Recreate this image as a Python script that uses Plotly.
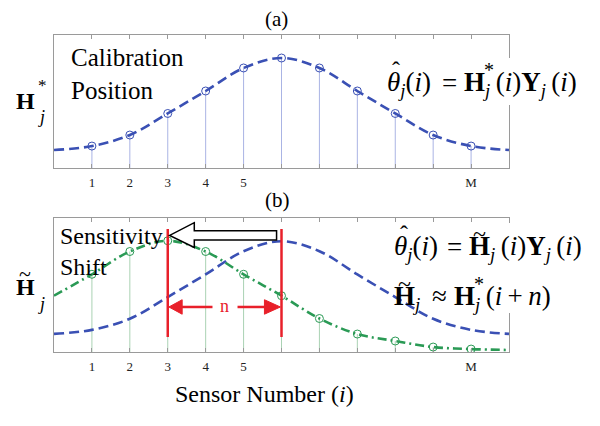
import plotly.graph_objects as go

# ---------------- data ----------------
X_CURVE = [0, 1, 2, 3, 4, 5, 6, 7, 8, 9, 10, 11, 12]
BLUE = [0.135, 0.165, 0.248, 0.41, 0.579, 0.752, 0.827, 0.752, 0.579, 0.41, 0.248, 0.165, 0.135]
GREEN = [0.42, 0.58, 0.75, 0.83, 0.75, 0.58, 0.42, 0.25, 0.134, 0.082, 0.037, 0.022, 0.015]
SENSORS = [1, 2, 3, 4, 5, 6, 7, 8, 9, 10, 11]
TICK_LABELS = ["1", "2", "3", "4", "5", "", "", "", "", "", "M"]
SHIFT_FROM, SHIFT_TO = 6, 3

# page body has an 8px default margin; the figure is sized to fit the window
OFF = 8
W, H = 600 - OFF, 426 - OFF
FONT = "Liberation Serif"
BLUE_C = "#3a50b4"
GREEN_C = "#2a9a55"
BLUE_STEM = "#aab4e4"
GREEN_STEM = "#aad2b4"
RED = "#e8202a"
FRAME = "#9a9a9a"


def PX(p):
    return (p - OFF) / W


def PY(p):
    return 1 - (p - OFF) / H


def stems(xs, vs):
    sx, sy = [], []
    for x, v in zip(xs, vs):
        sx += [x, x, None]
        sy += [0, v, None]
    return sx, sy


blue_marks = BLUE[1:12]
green_marks = GREEN[1:12]

fig = go.Figure()

# panel (a)
bx, by = stems(SENSORS, blue_marks)
fig.add_trace(go.Scatter(x=bx, y=by, mode="lines", line=dict(color=BLUE_STEM, width=1),
                         xaxis="x", yaxis="y", hoverinfo="skip"))
fig.add_trace(go.Scatter(x=X_CURVE, y=BLUE, mode="lines",
                         line=dict(color=BLUE_C, width=2.6, dash="10px,5px", shape="spline"),
                         xaxis="x", yaxis="y"))
fig.add_trace(go.Scatter(x=SENSORS, y=blue_marks, mode="markers",
                         marker=dict(symbol="circle-open", size=8, color=BLUE_C, line=dict(width=1)),
                         xaxis="x", yaxis="y"))

# panel (b)
gx, gy = stems(SENSORS, green_marks)
fig.add_trace(go.Scatter(x=gx, y=gy, mode="lines", line=dict(color=GREEN_STEM, width=1),
                         xaxis="x2", yaxis="y2", hoverinfo="skip"))
fig.add_trace(go.Scatter(x=X_CURVE, y=BLUE, mode="lines",
                         line=dict(color=BLUE_C, width=2.6, dash="10px,5px", shape="spline"),
                         xaxis="x2", yaxis="y2"))
fig.add_trace(go.Scatter(x=X_CURVE, y=GREEN, mode="lines",
                         line=dict(color=GREEN_C, width=2.6, dash="9px,4px,2px,4px", shape="spline"),
                         xaxis="x2", yaxis="y2"))
fig.add_trace(go.Scatter(x=SENSORS, y=green_marks, mode="markers",
                         marker=dict(symbol="circle-open", size=8, color=GREEN_C, line=dict(width=1)),
                         xaxis="x2", yaxis="y2"))

xcommon = dict(range=[0, 12], tickvals=SENSORS, ticktext=TICK_LABELS, ticks="inside", ticklen=4,
               tickcolor=FRAME, showline=True, linecolor=FRAME, linewidth=1, mirror="ticks",
               showgrid=False, zeroline=False, tickfont=dict(family=FONT, size=13, color="#222"),
               ticklabelstandoff=2, domain=[PX(54), PX(509)], fixedrange=True)
ycommon = dict(range=[0, 1], showline=True, linecolor=FRAME, linewidth=1, mirror=True,
               showticklabels=False, ticks="", showgrid=False, zeroline=False, fixedrange=True)

shapes = []
# red vertical markers
for xv in (SHIFT_TO, SHIFT_FROM):
    shapes.append(dict(type="line", xref="x2", yref="y2", x0=xv, x1=xv, y0=0.112, y1=0.918,
                       line=dict(color=RED, width=2.5), layer="above"))
# red double arrow with a gap for "n"
shapes.append(dict(type="line", xref="x2", yref="y2", x0=3.35, x1=4.18, y0=0.336, y1=0.336,
                   line=dict(color=RED, width=2.5), layer="above"))
shapes.append(dict(type="line", xref="x2", yref="y2", x0=4.84, x1=5.6, y0=0.336, y1=0.336,
                   line=dict(color=RED, width=2.5), layer="above"))
shapes.append(dict(type="path", xref="x2", yref="y2",
                   path="M 3.03,0.336 L 3.38,0.39 L 3.38,0.282 Z",
                   fillcolor=RED, line=dict(color=RED, width=1), layer="above"))
shapes.append(dict(type="path", xref="x2", yref="y2",
                   path="M 5.97,0.336 L 5.55,0.39 L 5.55,0.282 Z",
                   fillcolor=RED, line=dict(color=RED, width=1), layer="above"))
# block arrow
shapes.append(dict(type="path", xref="x2", yref="y2",
                   path="M 5.87,0.905 L 3.7,0.905 L 3.7,0.965 L 3.05,0.87 L 3.7,0.78 L 3.7,0.835 L 5.87,0.835 Z",
                   fillcolor="white", line=dict(color="black", width=1.5), layer="above"))
# white gaps on the right frame behind the equations
shapes.append(dict(type="rect", xref="paper", yref="paper", x0=PX(505), x1=PX(514),
                   y0=PY(105), y1=PY(58), fillcolor="white", line=dict(width=0), layer="above"))
shapes.append(dict(type="rect", xref="paper", yref="paper", x0=PX(505), x1=PX(514),
                   y0=PY(313), y1=PY(223), fillcolor="white", line=dict(width=0), layer="above"))


def ann(text, x, y, size, xanchor="center", yanchor="middle", color="black", align="left"):
    return dict(text=text, x=PX(x), y=PY(y), xref="paper", yref="paper", showarrow=False,
                xanchor=xanchor, yanchor=yanchor, align=align, borderpad=0,
                font=dict(family=FONT, size=size, color=color))


ji = "<sub><i>j</i></sub>\u2009"
jt = "<sub><i>j</i></sub>"
EQ = 27
annotations = [
    ann("(a)", 276, 19, 21),
    ann("(b)", 277, 200, 21),
    ann("Calibration<br>Position", 70, 74, 25, xanchor="left"),
    ann("Sensitivity<br>Shift", 59, 251, 24, xanchor="left"),
    ann("Sensor Number (<i>i</i>)", 264, 394, 24),
    # y labels
    ann("<b>H</b>", 25, 101, 24),
    ann("*", 42, 86, 17),
    ann("<i>j</i>", 41, 117, 18),
    ann("<b>H</b>", 25, 287, 24),
    ann("~", 25, 273, 22),
    ann("<i>j</i>", 41, 304, 18),
    # equation (a)
    ann("ˆ", 396, 70, 24),
    ann("<i>θ</i>" + jt + "(<i>i</i>)", 386, 84, EQ, xanchor="left"),
    ann("=", 449, 83, EQ),
    ann("<b>H</b>" + ji + "(<i>i</i>)<b>Y</b>" + ji + "(<i>i</i>)", 463, 84, EQ, xanchor="left"),
    ann("*", 489, 70, 20),
    # equation (b) 1
    ann("ˆ", 404, 234, 24),
    ann("<i>θ</i>" + jt + "(<i>i</i>)", 393, 248, EQ, xanchor="left"),
    ann("=", 454, 247, EQ),
    ann("<b>H</b>" + ji + "(<i>i</i>)<b>Y</b>" + ji + "(<i>i</i>)", 468, 248, EQ, xanchor="left"),
    ann("~", 479, 234, 24),
    # equation (b) 2
    ann("<b>H</b>" + jt, 393, 298, EQ, xanchor="left"),
    ann("~", 404, 284, 24),
    ann("≈", 439, 296, EQ),
    ann("<b>H</b>" + ji + "(<i>i</i>\u2009+\u2009<i>n</i>)", 453, 298, EQ, xanchor="left"),
    ann("*", 479, 284, 20),
    # "n" on the red arrow
    dict(text="n", x=4.5, y=0.345, xref="x2", yref="y2", showarrow=False,
         font=dict(family=FONT, size=18, color=RED)),
]

fig.update_layout(
    width=W, height=H, margin=dict(l=0, r=0, t=0, b=0),
    paper_bgcolor="white", plot_bgcolor="white", showlegend=False,
    xaxis=dict(**xcommon, anchor="y"),
    yaxis=dict(**ycommon, domain=[PY(168), PY(35)], anchor="x"),
    xaxis2=dict(**xcommon, anchor="y2"),
    yaxis2=dict(**ycommon, domain=[PY(352), PY(218)], anchor="x2"),
    shapes=shapes, annotations=annotations,
)

fig.write_html("out.html", config={"displayModeBar": False})
